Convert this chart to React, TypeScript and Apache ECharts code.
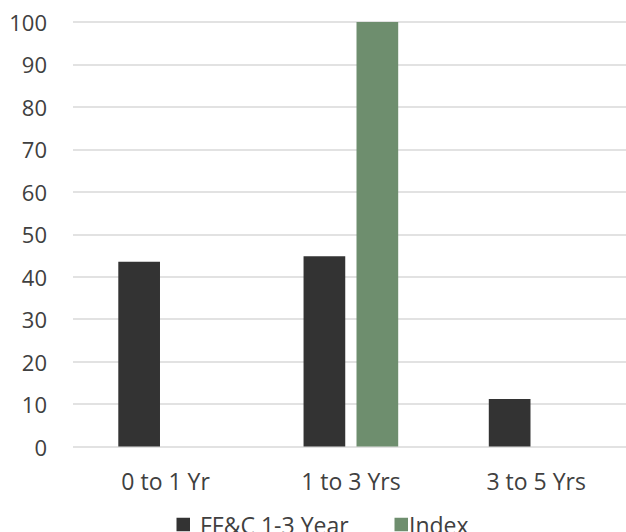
import React, { useEffect, useRef } from "react";
import * as echarts from "echarts";

const categories = ["0 to 1 Yr", "1 to 3 Yrs", "3 to 5 Yrs"];
const fundName = "FF&C 1-3 Year";
const indexName = "Index";
const fundValues = [43.5, 44.8, 11.2];
const indexValues: (number | null)[] = [null, 100, null];
const yTicks = { min: 0, max: 100, interval: 10 };

const FONT = "'Open Sans', sans-serif";
const TEXT = "#404040";

export default function App() {
  const ref = useRef<HTMLDivElement>(null);

  useEffect(() => {
    if (!ref.current) return;
    const chart = echarts.init(ref.current, undefined, { renderer: "svg" });
    chart.setOption({
      animation: false,
      backgroundColor: "#ffffff",
      textStyle: { fontFamily: FONT },
      grid: { left: 73, top: 22, width: 555.75, height: 424.5 },
      xAxis: {
        type: "category",
        data: categories,
        axisLine: { show: false },
        axisTick: { show: false },
        axisLabel: { color: TEXT, fontSize: 23, fontFamily: FONT, margin: 23 },
      },
      yAxis: {
        type: "value",
        min: yTicks.min,
        max: yTicks.max,
        interval: yTicks.interval,
        axisLine: { show: false },
        axisTick: { show: false },
        splitLine: { lineStyle: { color: "#d9d9d9", width: 1.5 } },
        axisLabel: { color: TEXT, fontSize: 22, fontFamily: FONT, margin: 26 },
      },
      legend: [
        {
          data: [fundName],
          left: 171.5,
          top: 508,
          icon: "rect",
          itemWidth: 13.5,
          itemHeight: 13.5,
          textStyle: { color: TEXT, fontSize: 23, fontFamily: FONT, padding: [0, 0, 0, 5] },
        },
        {
          data: [indexName],
          left: 389.5,
          top: 508,
          icon: "rect",
          itemWidth: 13.5,
          itemHeight: 13.5,
          textStyle: { color: TEXT, fontSize: 23, fontFamily: FONT, padding: [0, 0, 0, -4] },
        },
      ],
      series: [
        {
          name: fundName,
          type: "bar",
          data: fundValues,
          barWidth: 41.7,
          barGap: "27%",
          itemStyle: { color: "#333333" },
        },
        {
          name: indexName,
          type: "bar",
          data: indexValues,
          barWidth: 41.7,
          itemStyle: { color: "#6e8e6e" },
        },
      ],
    });
    return () => chart.dispose();
  }, []);

  return (
    <div style={{ position: "fixed", left: 0, top: 0, width: 626, height: 532, overflow: "hidden", background: "#fff" }}>
      <div ref={ref} style={{ width: 632, height: 532 }} />
    </div>
  );
}
